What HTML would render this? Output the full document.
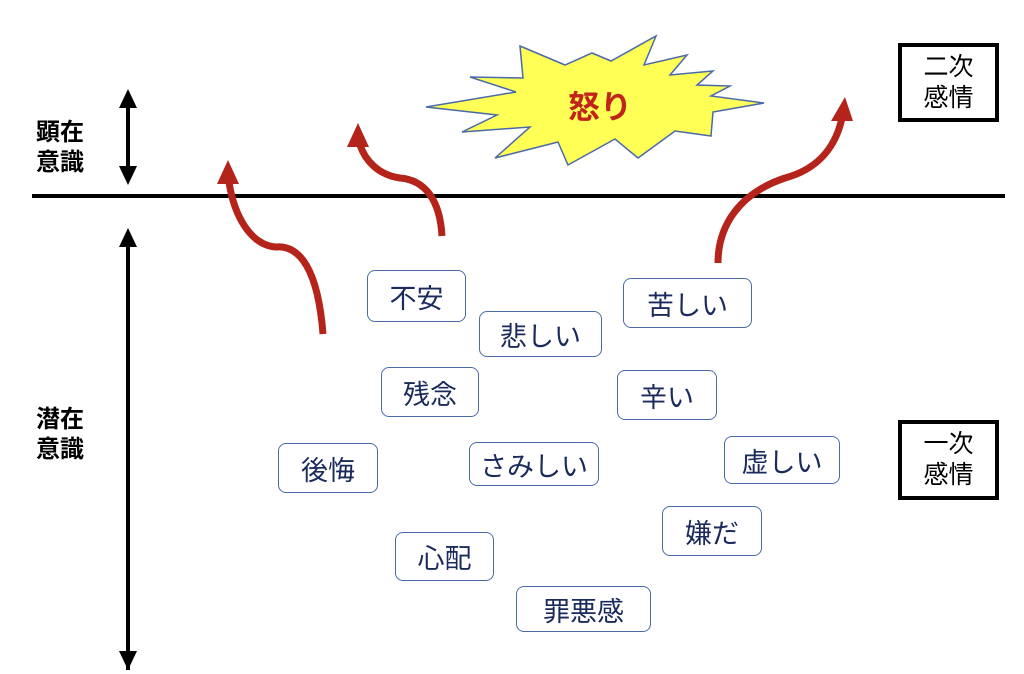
<!DOCTYPE html>
<html><head><meta charset="utf-8"><style>
body{margin:0;width:1024px;height:674px;background:#fff;position:relative;overflow:hidden;font-family:"Liberation Sans","Noto Sans CJK JP",sans-serif}
.b{position:absolute;box-sizing:border-box;border:1.5px solid #4a6aa8;border-radius:8px;color:#1a2a5c;font-size:27px;display:flex;align-items:center;justify-content:center;background:#fff}
.k{position:absolute;box-sizing:border-box;border:4px solid #000;font-size:25px;line-height:31px;text-align:center;display:flex;align-items:center;justify-content:center}
.l{position:absolute;font-weight:bold;font-size:24px;line-height:30px}
</style></head><body>
<svg width="1024" height="674" style="position:absolute;left:0;top:0">
<line x1="32" y1="196" x2="1005" y2="196" stroke="#000" stroke-width="4"/>
<line x1="128" y1="105" x2="128" y2="170" stroke="#000" stroke-width="4"/>
<polygon points="128,89 119,108 137,108" fill="#000"/>
<polygon points="128,185 119,166 137,166" fill="#000"/>
<line x1="128" y1="245" x2="128" y2="670" stroke="#000" stroke-width="4"/>
<polygon points="128,228 119,247 137,247" fill="#000"/>
<polygon points="128,670 119,651 137,651" fill="#000"/>
<polygon points="520,46 565,65 592,53 611,61 656,36 644,65 687,55 670,75 713,71 697,85 730,86 711,96 764,103 713,112 711,136 675,131 638,158 615,139 568,165 558,142 495,158 530,127 462,132 497,115 426,107 516,92 470,77 523,78" fill="#ffff55" stroke="#4a6aa8" stroke-width="1.5"/>
<g fill="none" stroke="#b5241a" stroke-width="7">
<path d="M323,334 C318,270 300,245 276,247 C250,245 234,215 229,182"/>
<path d="M442,236 C440,200 425,180 400,178 C378,175 365,160 360,145"/>
<path d="M718,263 C718,225 740,193 785,178 C815,170 835,150 842,118"/>
</g>
<g fill="#b5241a">
<polygon points="228,160 217,184 239,184"/>
<polygon points="358,123 347,147 369,147"/>
<polygon points="845,97 831,121 853,121"/>
</g>
<text x="600" y="118" font-size="32" font-weight="bold" fill="#c0241a" text-anchor="middle" font-family="Liberation Sans,Noto Sans CJK JP,sans-serif">怒り</text>
</svg>
<div class="l" style="left:36px;top:118px">顕在<br>意識</div>
<div class="l" style="left:36px;top:405px">潜在<br>意識</div>
<div class="k" style="left:898px;top:43px;width:101px;height:79px">二次<br>感情</div>
<div class="k" style="left:898px;top:420px;width:101px;height:80px">一次<br>感情</div>
<div class="b" style="left:367px;top:270px;width:99px;height:52px">不安</div>
<div class="b" style="left:479px;top:311px;width:123px;height:46px">悲しい</div>
<div class="b" style="left:623px;top:278px;width:129px;height:50px">苦しい</div>
<div class="b" style="left:381px;top:367px;width:98px;height:50px">残念</div>
<div class="b" style="left:617px;top:370px;width:100px;height:50px">辛い</div>
<div class="b" style="left:278px;top:443px;width:100px;height:50px">後悔</div>
<div class="b" style="left:469px;top:442px;width:130px;height:44px">さみしい</div>
<div class="b" style="left:724px;top:436px;width:116px;height:48px">虚しい</div>
<div class="b" style="left:662px;top:506px;width:100px;height:50px">嫌だ</div>
<div class="b" style="left:395px;top:532px;width:99px;height:49px">心配</div>
<div class="b" style="left:516px;top:586px;width:135px;height:46px">罪悪感</div>
</body></html>
